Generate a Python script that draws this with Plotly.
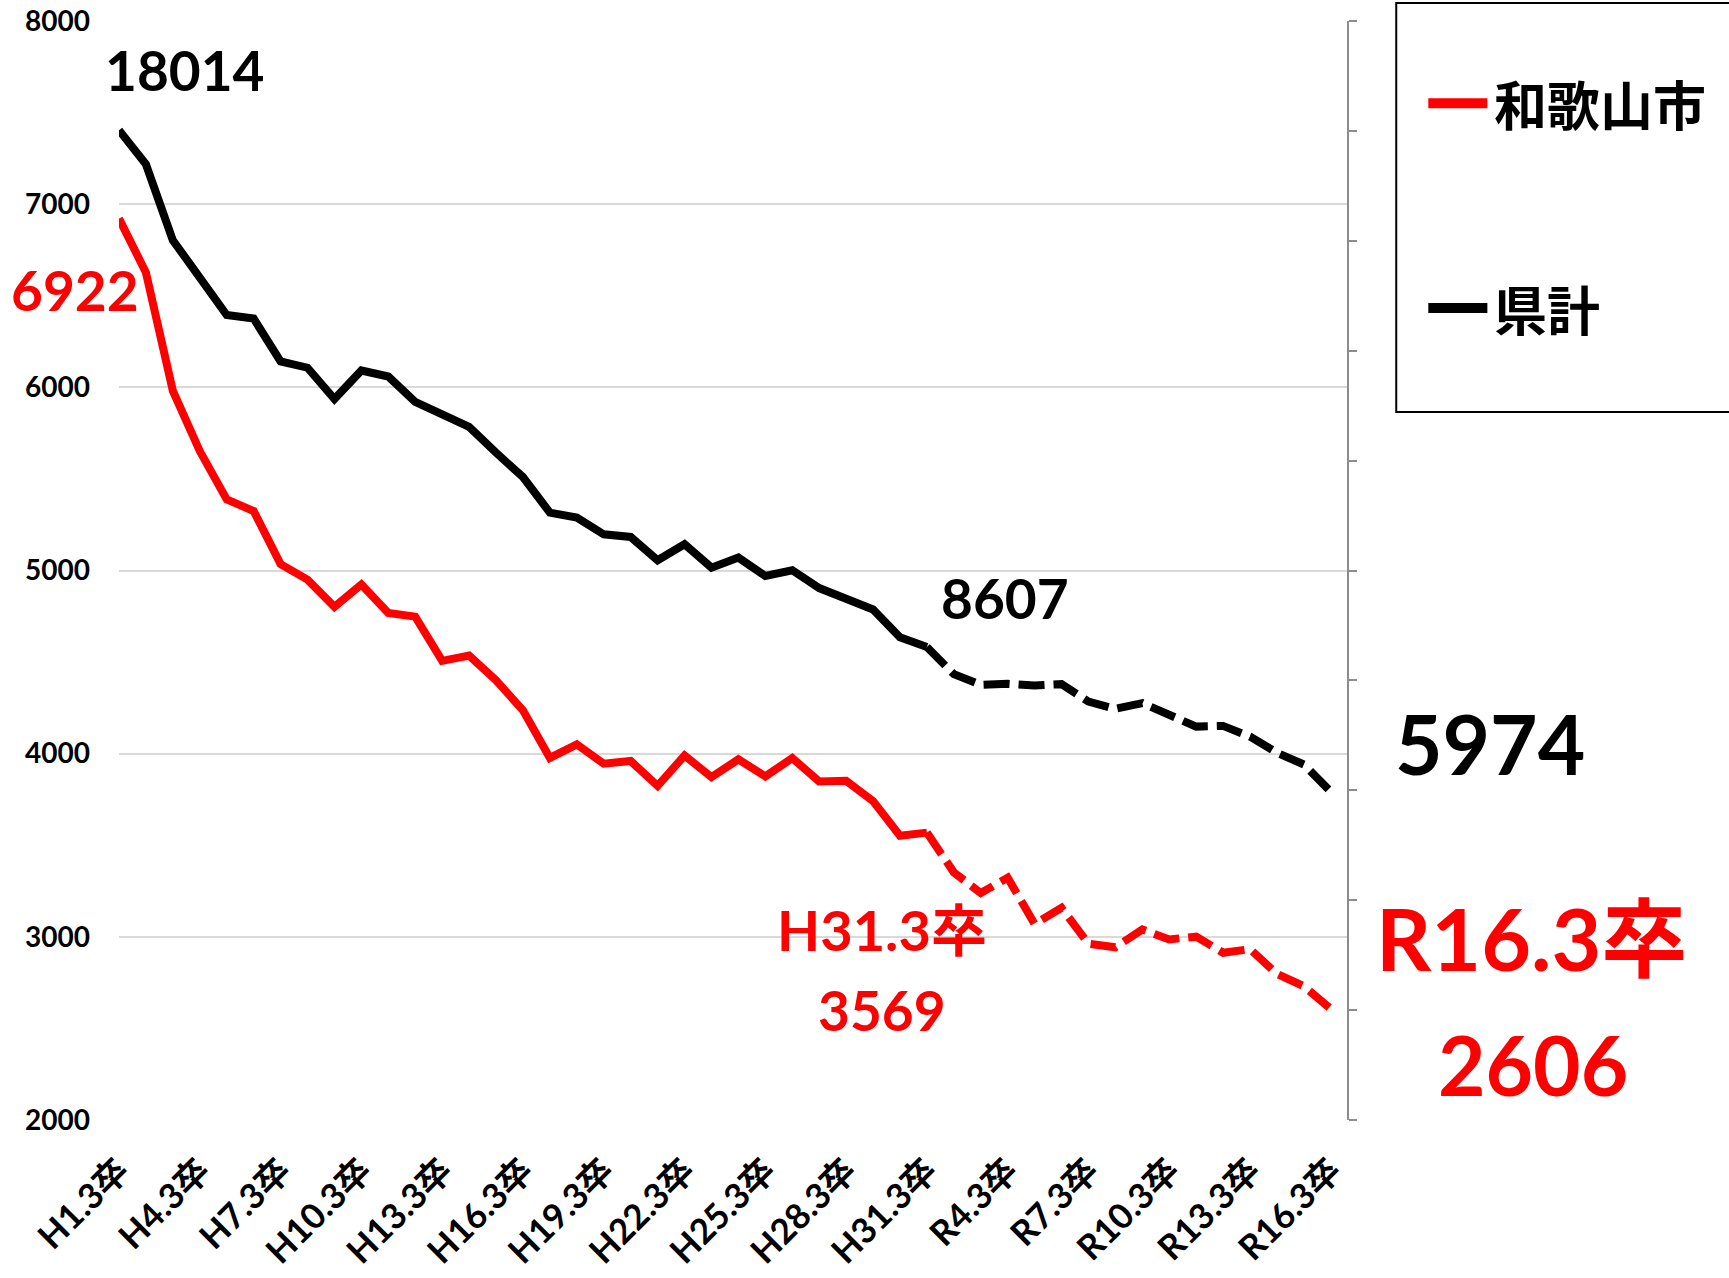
import plotly.graph_objects as go

categories = [
    "H1.3卒", "H2.3卒", "H3.3卒", "H4.3卒", "H5.3卒", "H6.3卒", "H7.3卒", "H8.3卒",
    "H9.3卒", "H10.3卒", "H11.3卒", "H12.3卒", "H13.3卒", "H14.3卒", "H15.3卒",
    "H16.3卒", "H17.3卒", "H18.3卒", "H19.3卒", "H20.3卒", "H21.3卒", "H22.3卒",
    "H23.3卒", "H24.3卒", "H25.3卒", "H26.3卒", "H27.3卒", "H28.3卒", "H29.3卒",
    "H30.3卒", "H31.3卒", "R2.3卒", "R3.3卒", "R4.3卒", "R5.3卒", "R6.3卒", "R7.3卒",
    "R8.3卒", "R9.3卒", "R10.3卒", "R11.3卒", "R12.3卒", "R13.3卒", "R14.3卒",
    "R15.3卒", "R16.3卒",
]

wakayama_city = [
    6922, 6627, 5980, 5652, 5388, 5325, 5035, 4950, 4802, 4924, 4768, 4748, 4507,
    4536, 4400, 4237, 3977, 4051, 3945, 3960, 3824, 3990, 3872, 3969, 3876, 3976,
    3848, 3852, 3741, 3552, 3569, 3352, 3239, 3323, 3070, 3158, 2962, 2943, 3040,
    2986, 3001, 2913, 2933, 2797, 2730, 2606,
]

prefecture_total = [
    18014, 17392, 16010, 15300, 14650, 14585, 13805, 13690, 13120, 13640, 13530,
    13070, 12858, 12615, 12144, 11701, 11053, 10963, 10658, 10610, 10187, 10478,
    10052, 10235, 9901, 10004, 9680, 9500, 9290, 8784, 8607, 8114, 7920, 7938,
    7908, 7932, 7613, 7482, 7587, 7378, 7159, 7172, 6977, 6684, 6469, 5974,
]

tick_labels = [
    "H1.3卒", "H4.3卒", "H7.3卒", "H10.3卒", "H13.3卒", "H16.3卒", "H19.3卒",
    "H22.3卒", "H25.3卒", "H28.3卒", "H31.3卒", "R4.3卒", "R7.3卒", "R10.3卒",
    "R13.3卒", "R16.3卒",
]

split = categories.index("H31.3卒")  # solid up to H31, projection dashed after

RED = "#FF0000"
BLACK = "#000000"
NUM_FONT = "Lato, 'Noto Sans CJK JP', sans-serif"
JP_FONT = "'Noto Sans CJK JP', sans-serif"
LW = 8
DASH = "26px,9px"

fig = go.Figure()

# prefecture total (right axis)
fig.add_trace(go.Scatter(
    x=categories[:split + 1], y=prefecture_total[:split + 1], yaxis="y2",
    mode="lines", line=dict(color=BLACK, width=LW), name="県計", showlegend=False,
))
fig.add_trace(go.Scatter(
    x=categories[split:], y=prefecture_total[split:], yaxis="y2",
    mode="lines", line=dict(color=BLACK, width=LW, dash=DASH), showlegend=False,
))
# Wakayama city (left axis)
fig.add_trace(go.Scatter(
    x=categories[:split + 1], y=wakayama_city[:split + 1], yaxis="y",
    mode="lines", line=dict(color=RED, width=LW), name="和歌山市", showlegend=False,
))
fig.add_trace(go.Scatter(
    x=categories[split:], y=wakayama_city[split:], yaxis="y",
    mode="lines", line=dict(color=RED, width=LW, dash=DASH), showlegend=False,
))

annotations = [
    dict(text=f"{prefecture_total[0]}", x=0.0538, y=0.9552, color=BLACK, size=55),
    dict(text=f"{wakayama_city[0]}", x=-0.0362, y=0.7550, color=RED, size=55),
    dict(text=f"{prefecture_total[split]}", x=0.7217, y=0.4750, color=BLACK, size=55),
    dict(text=f"{prefecture_total[-1]}", x=1.1167, y=0.3433, color=BLACK, size=82),
    dict(text=categories[split], x=0.6215, y=0.1732, color=RED, size=56),
    dict(text=f"{wakayama_city[split]}", x=0.6215, y=0.1002, color=RED, size=55),
    dict(text=categories[-1], x=1.1501, y=0.1660, color=RED, size=86),
    dict(text=f"{wakayama_city[-1]}", x=1.1517, y=0.0510, color=RED, size=82),
]
for a in annotations:
    fig.add_annotation(
        text=a["text"], x=a["x"], y=a["y"], xref="paper", yref="paper",
        showarrow=False, xanchor="center", yanchor="middle",
        font=dict(family=NUM_FONT, size=a["size"], color=a["color"], weight=700),
    )

# legend (drawn box + keys + labels)
fig.add_shape(type="rect", xref="paper", yref="paper",
              x0=1.0401, x1=1.34, y0=0.6442, y1=1.0164,
              line=dict(color=BLACK, width=2), fillcolor="white", layer="above")
for name, color, py in [("和歌山市", RED, 0.9252), ("県計", BLACK, 0.7388)]:
    fig.add_shape(type="line", xref="paper", yref="paper",
                  x0=1.0662, x1=1.1143, y0=py, y1=py,
                  line=dict(color=color, width=10), layer="above")
    fig.add_annotation(text=name, xref="paper", yref="paper", x=1.1184, y=py,
                       xanchor="left", yanchor="middle", showarrow=False,
                       font=dict(family=JP_FONT, size=53, color=BLACK, weight=700))

fig.update_layout(
    width=1729, height=1278,
    margin=dict(l=119, r=382, t=21, b=158, autoexpand=False),
    paper_bgcolor="white", plot_bgcolor="white",
    showlegend=False,
    xaxis=dict(
        type="category", range=[0, 45.6], automargin=False,
        tickvals=tick_labels, ticktext=tick_labels, tickangle=-45,
        tickfont=dict(family=NUM_FONT, size=35, color=BLACK, weight=700),
        showgrid=False, zeroline=False, showline=False, ticks="",
        ticklabelstandoff=22,
    ),
    yaxis=dict(
        range=[2000, 8000], dtick=1000, tick0=2000, automargin=False,
        showgrid=True, gridcolor="#D9D9D9", gridwidth=2,
        zeroline=False, showline=False, ticks="",
        tickfont=dict(family=NUM_FONT, size=28, color=BLACK, weight=700),
        ticklabelstandoff=28,
    ),
    yaxis2=dict(
        overlaying="y", side="right", range=[0, 20000], dtick=2000, tick0=0,
        automargin=False,
        showticklabels=False, showgrid=False, zeroline=False,
        showline=True, linecolor="#8C8C8C", linewidth=2,
        ticks="outside", ticklen=8, tickwidth=2, tickcolor="#8C8C8C",
    ),
)

fig.write_html("out.html", config={"displayModeBar": False},
               post_script="document.body.style.margin='0';")
